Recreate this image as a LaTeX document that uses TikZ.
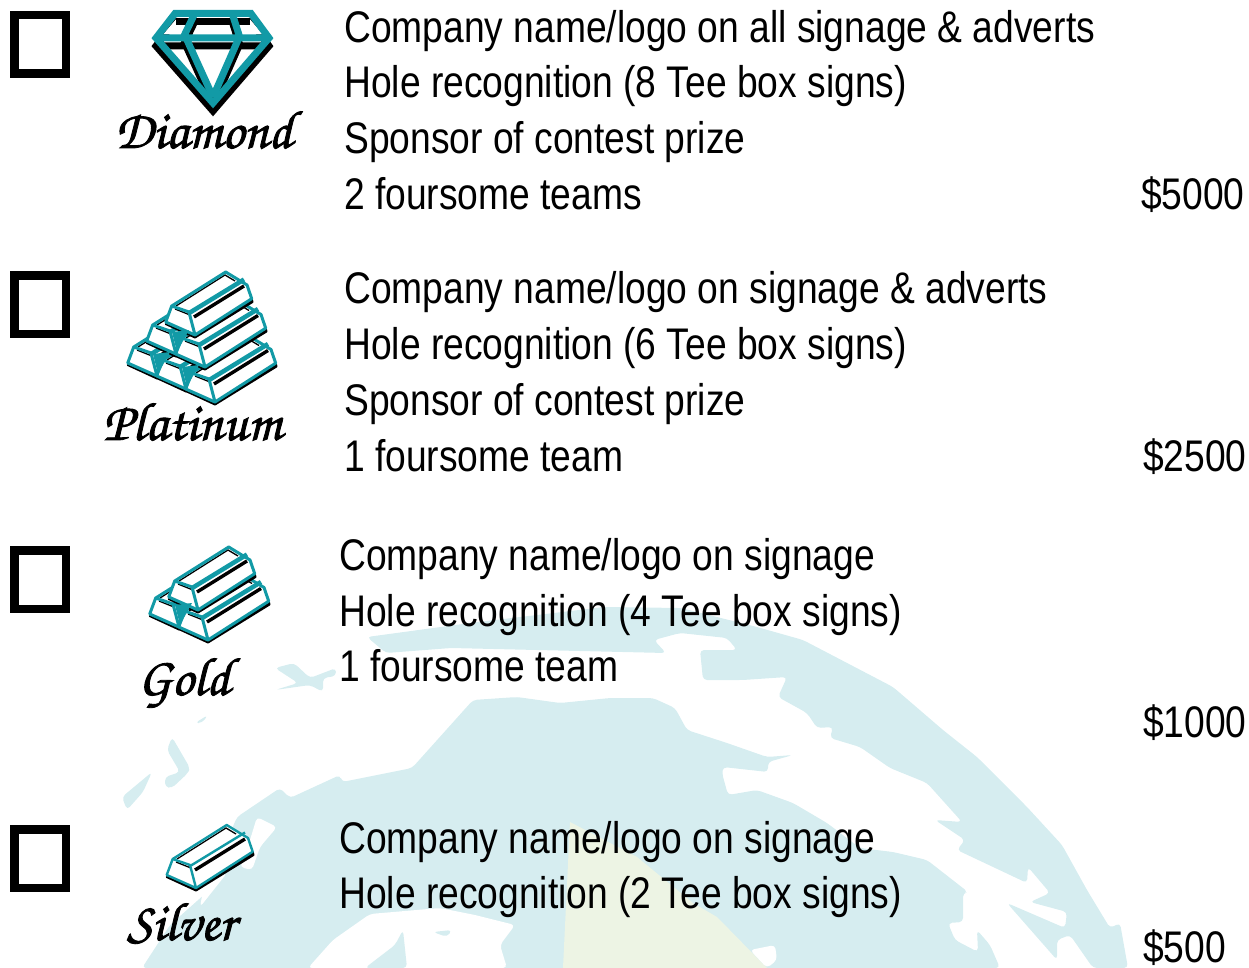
\documentclass[tikz,border=0pt]{standalone}
\usepackage{fontspec}
\setmainfont[FakeStretch=0.84]{Liberation Sans}
\newfontfamily\scrfnt[FakeBold=1.6,Ligatures=TeX]{TeX Gyre Chorus}
\definecolor{pale}{HTML}{D6EDF0}
\definecolor{wedge}{HTML}{EDF4E4}
\definecolor{teal}{HTML}{129AA6}
\tikzset{
  lbl/.style={anchor=base west,inner sep=0pt,font=\fontsize{44.3}{44.3}\selectfont},
  scr/.style={anchor=base west,inner sep=0pt,font=\fontsize{54}{54}\scrfnt},
  land/.style={fill=pale,draw=none,rounded corners=4pt},
  carve/.style={fill=white,draw=none,rounded corners=4pt},
  chk/.style={draw=black,line width=8.5pt,fill=none,minimum width=51.5pt,minimum height=58.5pt,inner sep=0pt,anchor=north west}
}
\def\ex{0}\def\ey{0}\def\rw{2.4}\def\ow{2.4}
\newcommand{\goldbar}[2]{%
  \begin{scope}[shift={(#1,#2)}]
    \draw[black,line width=2pt,line join=round,fill=black] (-29.3,-11) -- (0,2.5) -- (57.5+\ex,-33-\ey) -- (56.7+\ex,-36-\ey) -- (0,0) -- cycle;
    \fill[white] (-23.3,-29) -- (30.7+\ex,-63-\ey) -- (52+\ex,-50-\ey) -- (56.7+\ex,-36.3-\ey) -- (0,0) -- (-29.3,-13) -- cycle;
    \draw[black,line width=1.3pt] (-20,-26) -- (-5,-20);
    \draw[black,line width=1.3pt] (-19,-29) -- (30+\ex,-60-\ey) -- (40+\ex,-54-\ey);
    \draw[black,line width=3.4pt] (-1,-18) -- (49+\ex,-49-\ey);
    \draw[teal,line width=\ow pt,line join=round] (-23.3,-29) -- (30.7+\ex,-63-\ey) -- (52+\ex,-50-\ey) -- (56.7+\ex,-36.3-\ey) -- (0,0) -- (-29.3,-13) -- cycle;
    \draw[teal,line width=\ow pt,line join=round] (-23.3,-29) -- (-6,-23) -- (0,0);
    \draw[teal,line width=\rw pt] (-5,-22.5) -- (49+\ex,-55.5-\ey);
  \end{scope}}
\newcommand{\tealtip}[2]{\fill[teal] (#1-33,#2-35) -- (#1-16,#2-37) -- (#1-28,#2-15) -- cycle;}
\begin{document}
\begin{tikzpicture}[x=1pt,y=-1pt]
\useasboundingbox (0,0) rectangle (1249,968);
% ---- background globe
\fill[land] (142,968) -- (170,925) -- (215,885) -- (225,845) -- (237,817) -- (280,788) -- (290,798) -- (340,775) -- (342,782) -- (412,768) -- (473,700) -- (517,697) -- (560,703) -- (610,698) -- (653,698) -- (675,708) -- (687,730) -- (727,743) -- (767,757) -- (793,755) -- (768,762) -- (768,772) -- (723,767) -- (722,773) -- (728,795) -- (757,790) -- (793,803) -- (827,823) -- (860,848) -- (893,852) -- (927,860) -- (968,892) -- (963,893) -- (963,922) -- (948,923) -- (955,940) -- (978,952) -- (977,930) -- (990,945) -- (1000,968) -- cycle;
\fill[land] (367,637) -- (470,623) -- (604,607) -- (681,608) -- (757,627) -- (803,640) -- (893,687) -- (943,730) -- (977,757) -- (1027,807) -- (1062,845) -- (1087,890) -- (1110,928) -- (1120,923) -- (1128,968) -- (1093,968) -- (1070,935) -- (1057,940) -- (1057,960) -- (1007,903) -- (1065,928) -- (1067,912) -- (1030,902) -- (1050,893) -- (1028,867) -- (1027,883) -- (957,850) -- (965,840) -- (935,820) -- (962,822) -- (927,783) -- (890,768) -- (860,747) -- (830,738) -- (833,727) -- (817,728) -- (807,713) -- (778,697) -- (787,677) -- (743,680) -- (703,680) -- (700,650) -- (737,650) -- (727,638) -- (680,633) -- (654,640) -- (666,653) -- (451,648) -- (386,653) -- cycle;
\fill[land] (275,668) -- (294,663) -- (310,678) -- (336,668) -- (336,676) -- (323,678) -- (323,692) -- (310,685) -- (275,690) -- (298,683) -- cycle;
\fill[land] (195,723) -- (208,715) -- (202,723) -- cycle;
\fill[land] (172,737) -- (190,768) -- (188,773) -- (172,788) -- (165,787) -- (165,777) -- (180,772) -- (167,750) -- cycle;
\fill[land] (122,797) -- (152,772) -- (143,792) -- (127,810) -- cycle;
\fill[carve] (257,817) -- (277,827) -- (260,847) -- (252,870) -- (240,867) -- (250,840) -- cycle;
\fill[carve] (227,873) -- (200,907) -- (205,880) -- cycle;
\fill[carve] (308,968) -- (333,940) -- (370,914) -- (440,908) -- (475,915) -- (515,925) -- (500,945) -- (507,968) -- cycle;
\fill[land] (365,968) -- (395,945) -- (403,930) -- (407,968) -- cycle;
\fill[land] (433,932) -- (452,930) -- (447,937) -- cycle;
\fill[wedge] (570,822) -- (637,857) -- (693,903) -- (717,917) -- (767,968) -- (563,968) -- cycle;
\fill[carve] (750,950) -- (775,945) -- (777,960) -- (767,968) -- cycle;
% ---- check boxes
\node[chk] (c1) at (10,11) {};
\node[chk] (c2) at (10,271) {};
\node[chk] (c3) at (10,546) {};
\node[chk] (c4) at (10,825) {};
% ---- diamond
\begin{scope}[yshift=-8pt]
  \draw[black,line width=7pt,line join=miter] (175,13.5) -- (251,13.5) -- (269,38) -- (213,103) -- (156,38) -- cycle;
  \draw[black,line width=7pt] (156,38) -- (269,38) (195,13) -- (183,38) (232,13) -- (240,38) (187,40) -- (213,97) (238,40) -- (213,97);
\end{scope}
\fill[white] (178,17) -- (248,17) -- (263,34.5) -- (163,34.5) -- cycle;
\begin{scope}[yshift=-8pt]
  \draw[black,line width=7pt] (195,13) -- (183,38) (232,13) -- (240,38);
\end{scope}
\draw[black,line width=7pt] (176,21.5) -- (250,21.5);
\draw[teal,line width=7pt,line join=miter] (175,13.5) -- (251,13.5) -- (269,38) -- (213,103) -- (156,38) -- cycle;
\draw[teal,line width=7pt] (156,38) -- (269,38) (195,13) -- (183,38) (232,13) -- (240,38) (187,40) -- (213,97) (238,40) -- (213,97);
% ---- bars
\def\ex{4}\def\ey{2.5}\def\rw{4.5}\def\ow{3}
\goldbar{157}{376}\goldbar{186}{389}\goldbar{215}{402}
\goldbar{176}{354}\goldbar{205}{367}
\tealtip{186}{389}\tealtip{215}{402}
\def\ex{0}\def\ey{0}
\goldbar{195}{335}
\tealtip{205}{367}
\def\ex{4}\def\ey{2.5}
\goldbar{179}{627}\goldbar{208}{640}
\def\ex{0}\def\ey{0}
\goldbar{198}{610}
\tealtip{208}{640}
\def\rw{2.4}\def\ow{2.4}
\goldbar{196}{888}
% ---- script labels
\node[scr] (d) at (115,148) {Diamond};
\node[scr] (p) at (103,440) {Platinum};
\node[scr] (g) at (138,695) {Gold};
\node[scr] (s) at (127,940) {Silver};
% ---- texts
\node[lbl] (a1) at (344,43) {Company name/logo on all signage \& adverts};
\node[lbl] (a2) at (344,98) {Hole recognition (8 Tee box signs)};
\node[lbl] (a3) at (344,154) {Sponsor of contest prize};
\node[lbl] (a4) at (344,210) {2 foursome teams};
\node[lbl] (a5) at (1141,210) {\$5000};
\node[lbl] (b1) at (344,303) {Company name/logo on signage \& adverts};
\node[lbl] (b2) at (344,359) {Hole recognition (6 Tee box signs)};
\node[lbl] (b3) at (344,415) {Sponsor of contest prize};
\node[lbl] (b4) at (344,471) {1 foursome team};
\node[lbl] (b5) at (1143,471) {\$2500};
\node[lbl] (e1) at (339,570) {Company name/logo on signage};
\node[lbl] (e2) at (339,626) {Hole recognition (4 Tee box signs)};
\node[lbl] (e3) at (339,681) {1 foursome team};
\node[lbl] (e4) at (1143,737) {\$1000};
\node[lbl] (f1) at (339,853) {Company name/logo on signage};
\node[lbl] (f2) at (339,908) {Hole recognition (2 Tee box signs)};
\node[lbl] (f3) at (1143,962) {\$500};
\end{tikzpicture}
\end{document}
